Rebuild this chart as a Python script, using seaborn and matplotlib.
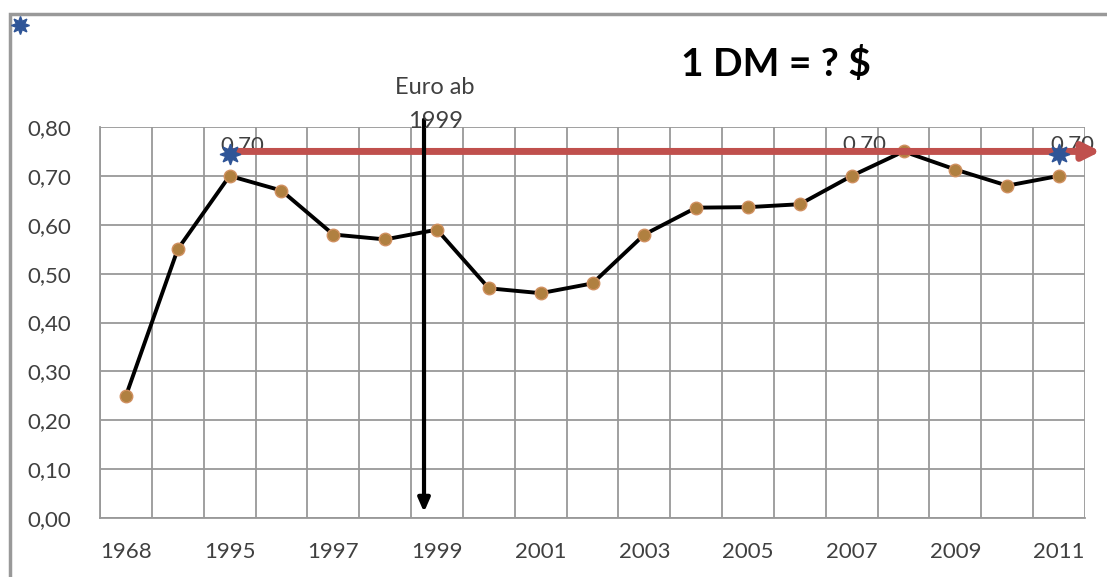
import numpy as np
import pandas as pd
import seaborn as sns
import matplotlib.pyplot as plt
from matplotlib.patches import Rectangle

# data
years = ["1968", "1980", "1995", "1996", "1997", "1998", "1999", "2000", "2001", "2002",
         "2003", "2004", "2005", "2006", "2007", "2008", "2009", "2010", "2011"]
dm_usd = [0.25, 0.55, 0.70, 0.67, 0.58, 0.57, 0.59, 0.47, 0.46, 0.48,
          0.58, 0.635, 0.636, 0.642, 0.70, 0.75, 0.713, 0.68, 0.70]
ref_years = ["1995", "2011"]
ref_values = [0.745, 0.745]
label_years = ["1995", "2007", "2011"]
label_texts = ["0,70", "0.70", "0.70"]

df = pd.DataFrame({"pos": np.arange(len(years)), "year": years, "value": dm_usd})

sns.set_style("white")
plt.rcParams["font.family"] = ["Lato", "DejaVu Sans"]

fig = plt.figure(figsize=(11.07, 5.77), dpi=100)
ax = fig.add_axes([100 / 1107, 1 - 518 / 577, 985 / 1107, 391 / 577])

# frame around the chart area
fig.patches.append(Rectangle((10 / 1107, -0.05), 1.2, 1 - 14 / 577 + 0.05,
                             transform=fig.transFigure, fill=False,
                             edgecolor="#999999", linewidth=2.5, zorder=0))

sns.lineplot(data=df, x="pos", y="value", ax=ax, color="black", linewidth=2.8,
             marker="o", markersize=9, markerfacecolor="#b08040",
             markeredgecolor="#d09060", markeredgewidth=1, zorder=3)

ax.set_xlim(-0.5, len(years) - 0.5)
ax.set_ylim(0, 0.8)
ax.set_yticks(np.arange(0, 0.81, 0.1))
ax.set_yticklabels([f"{v:.2f}".replace(".", ",") for v in np.arange(0, 0.81, 0.1)])
ax.set_xticks(df["pos"][::2])
ax.set_xticklabels(years[::2])
ax.set_xticks(np.arange(-0.5, len(years)), minor=True)
ax.tick_params(axis="x", which="major", length=0, pad=17, labelsize=16, labelcolor="#404040")
ax.tick_params(axis="x", which="minor", length=7, width=1.5, color="#888888", direction="out")
ax.tick_params(axis="y", length=8, width=1.5, color="#888888", pad=13, labelsize=16,
               labelcolor="#404040")
ax.grid(True, which="minor", axis="x", color="#999999", linewidth=1.3)
ax.grid(True, which="major", axis="y", color="#999999", linewidth=1.3)
ax.set_xlabel("")
ax.set_ylabel("")
for side in ["top", "right"]:
    ax.spines[side].set_visible(False)
for side in ["left", "bottom"]:
    ax.spines[side].set_color("#999999")
    ax.spines[side].set_linewidth(1.3)

# data labels and star markers of the reference series
for y, t in zip(label_years, label_texts):
    ax.text(years.index(y) + 0.25, 0.763, t, ha="center", va="center",
            fontsize=16, color="#404040", zorder=2)

# red arrow at the level of 2008
ax.annotate("", xy=(18.8, 0.75), xytext=(2, 0.75), annotation_clip=False,
            arrowprops=dict(arrowstyle="-|>,head_length=1.0,head_width=0.5",
                            color="#c0504d", linewidth=5, shrinkA=0, shrinkB=0),
            zorder=4)

ref_pos = [years.index(y) for y in ref_years]
ax.plot(ref_pos, ref_values, linestyle="none", marker=(8, 1, 0), markersize=15,
        color="#2f5597", clip_on=False, zorder=5)
fig.lines.append(plt.Line2D([20 / 1107], [1 - 25 / 577], marker=(8, 1, 0), markersize=13,
                            color="#2f5597", transform=fig.transFigure))

# euro arrow
ax.annotate("", xy=(5.75, 0.012), xytext=(5.75, 0.815), annotation_clip=False,
            arrowprops=dict(arrowstyle="-|>,head_length=0.8,head_width=0.35",
                            color="black", linewidth=3, shrinkA=0, shrinkB=0),
            zorder=4)
fig.text(435 / 1107, 1 - 88 / 577, "Euro ab", ha="center", va="center",
         fontsize=17, color="#404040")
fig.text(436 / 1107, 1 - 122 / 577, "1999", ha="center", va="center",
         fontsize=17, color="#404040")

fig.text(776 / 1107, 1 - 64 / 577, "1 DM = ? $", ha="center", va="center",
         fontsize=28, fontweight="bold", color="black")

fig.savefig("out.png", dpi=100, facecolor="white")
